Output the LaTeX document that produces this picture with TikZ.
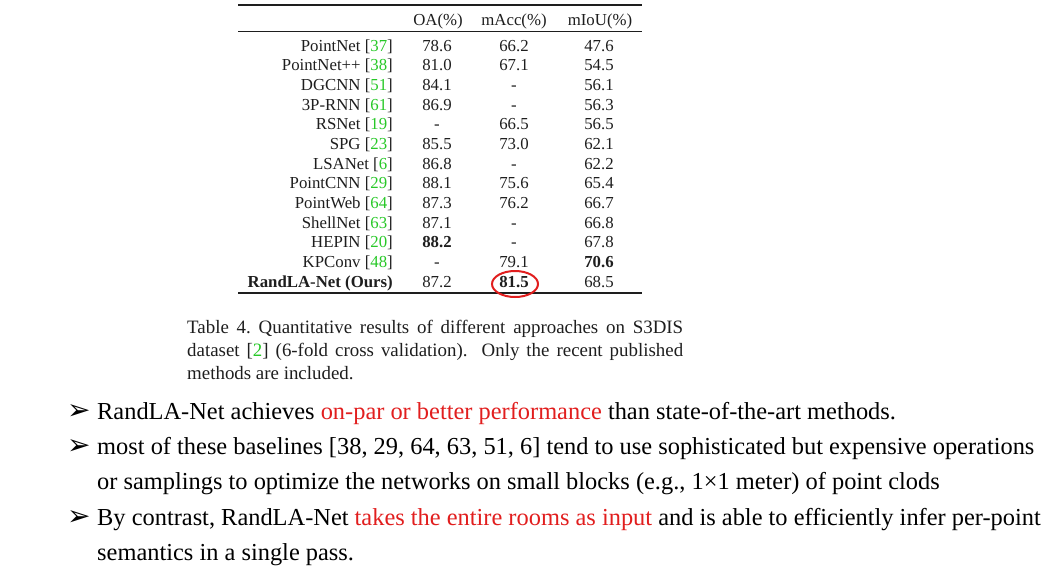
\documentclass[tikz,border=0pt]{standalone}
\usepackage{fontspec}
\setmainfont{Liberation Serif}
\newfontfamily\symfont{DejaVu Sans}
\usetikzlibrary{shapes.geometric}

\definecolor{citegreen}{RGB}{40,200,40}
\definecolor{hired}{RGB}{225,30,30}
\definecolor{ink}{RGB}{30,30,30}

\newcommand{\tabfont}{\fontsize{16.8}{20}\selectfont}
\newcommand{\capfont}{\fontsize{18.9}{23}\selectfont}
\newcommand{\bodyfont}{\fontsize{24.4}{30}\selectfont}
\newcommand{\refno}[1]{[\textcolor{citegreen}{#1}]}
\newcommand{\hl}[1]{\textcolor{hired}{#1}}

\tikzset{
    method/.style={anchor=base east, font=\tabfont, text=ink, inner sep=0pt},
    val/.style={anchor=base, font=\tabfont, text=ink, inner sep=0pt},
    rule/.style={line width=1.5pt, ink},
    midrule/.style={line width=1pt, ink},
    capline/.style={anchor=base west, font=\capfont, text=ink, inner sep=0pt},
    bullet/.style={anchor=base west, font=\fontsize{28}{30}\selectfont\symfont, inner sep=0pt},
    line/.style={anchor=base west, font=\bodyfont, text=black, inner sep=0pt},
    ring/.style={ellipse, draw=hired, line width=2pt, minimum width=46pt, minimum height=26pt, inner sep=0pt}
}

\begin{document}
\begin{tikzpicture}[x=1pt, y=-1pt]
    \useasboundingbox (0,0) rectangle (1056,579);

    % table rules
    \draw[rule] (238,5) -- (642,5);
    \draw[midrule] (238,31) -- (642,31);
    \draw[rule] (238,293) -- (642,293);

    % header
    \node[val] (hoa) at (438,25) {OA(\%)};
    \node[val] (hmacc) at (514,25) {mAcc(\%)};
    \node[val] (hmiou) at (600,25) {mIoU(\%)};

    % rows
    \node[method] (n1) at (393,51) {PointNet \refno{37}};
    \node[val] (oa1) at (437,51) {78.6}; \node[val] (macc1) at (514,51) {66.2}; \node[val] (miou1) at (599,51) {47.6};
    \node[method] (n2) at (393,70.7) {PointNet++ \refno{38}};
    \node[val] (oa2) at (437,70.7) {81.0}; \node[val] (macc2) at (514,70.7) {67.1}; \node[val] (miou2) at (599,70.7) {54.5};
    \node[method] (n3) at (393,90.3) {DGCNN \refno{51}};
    \node[val] (oa3) at (437,90.3) {84.1}; \node[val] (macc3) at (514,90.3) {-}; \node[val] (miou3) at (599,90.3) {56.1};
    \node[method] (n4) at (393,110) {3P-RNN \refno{61}};
    \node[val] (oa4) at (437,110) {86.9}; \node[val] (macc4) at (514,110) {-}; \node[val] (miou4) at (599,110) {56.3};
    \node[method] (n5) at (393,129.7) {RSNet \refno{19}};
    \node[val] (oa5) at (437,129.7) {-}; \node[val] (macc5) at (514,129.7) {66.5}; \node[val] (miou5) at (599,129.7) {56.5};
    \node[method] (n6) at (393,149.3) {SPG \refno{23}};
    \node[val] (oa6) at (437,149.3) {85.5}; \node[val] (macc6) at (514,149.3) {73.0}; \node[val] (miou6) at (599,149.3) {62.1};
    \node[method] (n7) at (393,169) {LSANet \refno{6}};
    \node[val] (oa7) at (437,169) {86.8}; \node[val] (macc7) at (514,169) {-}; \node[val] (miou7) at (599,169) {62.2};
    \node[method] (n8) at (393,188.7) {PointCNN \refno{29}};
    \node[val] (oa8) at (437,188.7) {88.1}; \node[val] (macc8) at (514,188.7) {75.6}; \node[val] (miou8) at (599,188.7) {65.4};
    \node[method] (n9) at (393,208.3) {PointWeb \refno{64}};
    \node[val] (oa9) at (437,208.3) {87.3}; \node[val] (macc9) at (514,208.3) {76.2}; \node[val] (miou9) at (599,208.3) {66.7};
    \node[method] (n10) at (393,228) {ShellNet \refno{63}};
    \node[val] (oa10) at (437,228) {87.1}; \node[val] (macc10) at (514,228) {-}; \node[val] (miou10) at (599,228) {66.8};
    \node[method] (n11) at (393,247.7) {HEPIN \refno{20}};
    \node[val] (oa11) at (437,247.7) {\textbf{88.2}}; \node[val] (macc11) at (514,247.7) {-}; \node[val] (miou11) at (599,247.7) {67.8};
    \node[method] (n12) at (393,267.3) {KPConv \refno{48}};
    \node[val] (oa12) at (437,267.3) {-}; \node[val] (macc12) at (514,267.3) {79.1}; \node[val] (miou12) at (599,267.3) {\textbf{70.6}};
    \node[method] (n13) at (393,287) {\textbf{RandLA-Net (Ours)}};
    \node[val] (oa13) at (437,287) {87.2}; \node[val] (macc13) at (514,287) {\textbf{81.5}}; \node[val] (miou13) at (599,287) {68.5};

    % red ring round the best mAcc
    \node[ring] (best) at (515,284) {};

    % caption
    \node[capline] (cap1) at (187,333) {\frenchspacing\makebox[496pt][s]{Table 4. Quantitative results of different approaches on S3DIS}};
    \node[capline] (cap2) at (187,356) {\makebox[496pt][s]{dataset \refno{2} (6-fold cross validation).\ \ Only the recent published}};
    \node[capline] (cap3) at (187,379) {methods are included.};

    % bullet points
    \node[bullet] (b1) at (67,419) {➢};
    \node[line] (l1) at (97,419) {RandLA-Net achieves \hl{on-par or better performance} than state-of-the-art methods.};
    \node[bullet] (b2) at (67,454) {➢};
    \node[line] (l2) at (97,454) {most of these baselines [38, 29, 64, 63, 51, 6] tend to use sophisticated but expensive operations};
    \node[line] (l3) at (97,489) {or samplings to optimize the networks on small blocks (e.g., 1×1 meter) of point clods};
    \node[bullet] (b3) at (67,525) {➢};
    \node[line] (l4) at (97,525) {By contrast, RandLA-Net \hl{takes the entire rooms as input} and is able to efficiently infer per-point};
    \node[line] (l5) at (97,560) {semantics in a single pass.};

\end{tikzpicture}
\end{document}
